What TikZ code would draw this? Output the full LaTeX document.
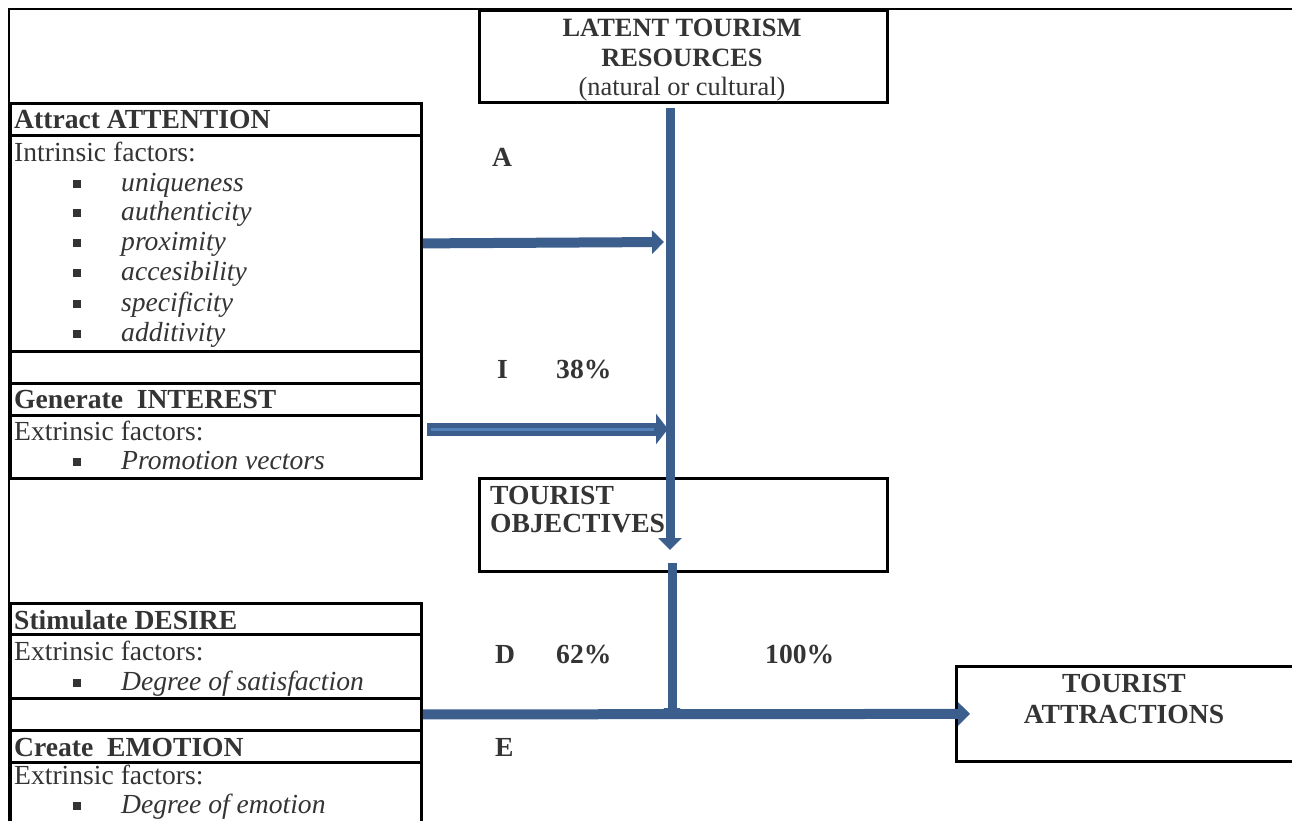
\documentclass[tikz,border=0pt]{standalone}
\usepackage{fontspec}
\setmainfont{Liberation Serif}
\usetikzlibrary{arrows.meta,positioning,calc}

\definecolor{flowblue}{RGB}{59,94,140}
\definecolor{flowlight}{RGB}{86,130,188}
\definecolor{ink}{RGB}{52,52,52}
\newcommand{\sqbul}{\makebox[48pt][l]{\rule[3pt]{8pt}{8pt}}}

\begin{document}
\begin{tikzpicture}[x=1pt,y=-1pt,
  every node/.style={font=\fontsize{27.6}{30}\selectfont, text=ink},
  box/.style={draw=black, line width=2.8pt, rectangle, inner sep=0pt, anchor=north west},
  lbl/.style={anchor=base west, inner sep=0pt},
  ctr/.style={anchor=base, inner sep=0pt},
  flow/.style={draw=flowblue, line width=10pt, -{Triangle[width=23pt,length=12pt]}}]
  \clip (0,0) rectangle (1292,820);
  \useasboundingbox (0,0) rectangle (1292,820);

  % outer frame
  \draw[line width=2.8pt] (1296,9) -- (9,9) -- (9,824);

  % left column
  \node[box, minimum width=411pt, minimum height=32pt] (att) at (9,102) {};
  \node[box, minimum width=411pt, minimum height=216pt] (intr) at (9,134) {};
  \node[box, minimum width=411pt, minimum height=32pt] (gapA) at (9,350) {};
  \node[box, minimum width=411pt, minimum height=32pt] (int) at (9,382) {};
  \node[box, minimum width=411pt, minimum height=63pt] (extr1) at (9,414) {};
  \node[box, minimum width=411pt, minimum height=31pt] (des) at (9,602) {};
  \node[box, minimum width=411pt, minimum height=64pt] (extr2) at (9,633) {};
  \node[box, minimum width=411pt, minimum height=32pt] (gapD) at (9,697) {};
  \node[box, minimum width=411pt, minimum height=32pt] (emo) at (9,729) {};
  \node[box, minimum width=411pt, minimum height=64pt] (extr3) at (9,761) {};

  % right boxes
  \node[box, minimum width=408pt, minimum height=92pt] (latent) at (478,9) {};
  \node[box, minimum width=408pt, minimum height=93pt] (obj) at (478,477) {};
  \node[box, minimum width=340pt, minimum height=95pt] (attr) at (955,665) {};

  % texts
  \node[ctr, font=\fontsize{26.4}{30}\selectfont] (lat1) at (682,36) {\bfseries LATENT TOURISM};
  \node[ctr, font=\fontsize{26.4}{30}\selectfont] (lat2) at (682,66) {\bfseries RESOURCES};
  \node[ctr, font=\fontsize{26.4}{30}\selectfont] (lat3) at (682,95) {(natural or cultural)};

  \node[lbl] (attT) at (14,128) {\bfseries Attract ATTENTION};
  \node[lbl] (intrT) at (14,161) {Intrinsic factors:};
  \node[lbl] (i1) at (73,191) {\sqbul\textit{uniqueness}};
  \node[lbl] (i2) at (73,220) {\sqbul\textit{authenticity}};
  \node[lbl] (i3) at (73,250) {\sqbul\textit{proximity}};
  \node[lbl] (i4) at (73,280) {\sqbul\textit{accesibility}};
  \node[lbl] (i5) at (73,311) {\sqbul\textit{specificity}};
  \node[lbl] (i6) at (73,341) {\sqbul\textit{additivity}};

  \node[lbl] (intT) at (14,408) {\bfseries Generate\ \ INTEREST};
  \node[lbl] (ex1T) at (14,440) {Extrinsic factors:};
  \node[lbl] (ex1a) at (73,469) {\sqbul\textit{Promotion vectors}};

  \node[lbl] (desT) at (14,629) {\bfseries Stimulate DESIRE};
  \node[lbl] (ex2T) at (14,660) {Extrinsic factors:};
  \node[lbl] (ex2a) at (73,690) {\sqbul\textit{Degree of satisfaction}};

  \node[lbl] (emoT) at (14,756) {\bfseries Create\ \ EMOTION};
  \node[lbl] (ex3T) at (14,784) {Extrinsic factors:};
  \node[lbl] (ex3a) at (73,813) {\sqbul\textit{Degree of emotion}};

  \node[lbl] (obj1) at (490,504) {\bfseries TOURIST};
  \node[lbl] (obj2) at (490,532) {\bfseries OBJECTIVES};
  \node[ctr] (attr1) at (1124,692) {\bfseries TOURIST};
  \node[ctr] (attr2) at (1124,723) {\bfseries ATTRACTIONS};

  \node[lbl] (stA) at (492,166) {\bfseries A};
  \node[lbl] (stI) at (497,378) {\bfseries I};
  \node[lbl] (pcI) at (556,378) {\bfseries 38\%};
  \node[lbl] (stD) at (495,663) {\bfseries D};
  \node[lbl] (pcD) at (556,663) {\bfseries 62\%};
  \node[lbl] (pcAll) at (765,663) {\bfseries 100\%};
  \node[lbl] (stE) at (495,756) {\bfseries E};

  % connectors
  \coordinate (spine) at (670,108);
  \coordinate (spineEnd) at (670,550);
  \coordinate (hitA) at (664,242);
  \coordinate (srcI) at (427,429);
  \coordinate (hitI) at (668,429);
  \coordinate (objOut) at (672,563);
  \coordinate (join) at (672,716);

  \draw[flow, line width=9pt] (spine) -- (spineEnd);
  \draw[flow] (intr.east) -- (hitA);
  \draw[flow, line width=13pt, -{Triangle[width=30pt,length=12pt]}] (srcI) -- (hitI);
  \draw[flowlight, line width=3pt] ($(srcI)+(4,0)$) -- ($(hitI)+(-14,0)$);
  \draw[flow, line width=9pt, -{Triangle[width=17pt,length=8pt]}] (objOut) -- (join);
  \draw[flow, shorten >=-15pt] (gapD.east) -- (attr.west);
\end{tikzpicture}
\end{document}
